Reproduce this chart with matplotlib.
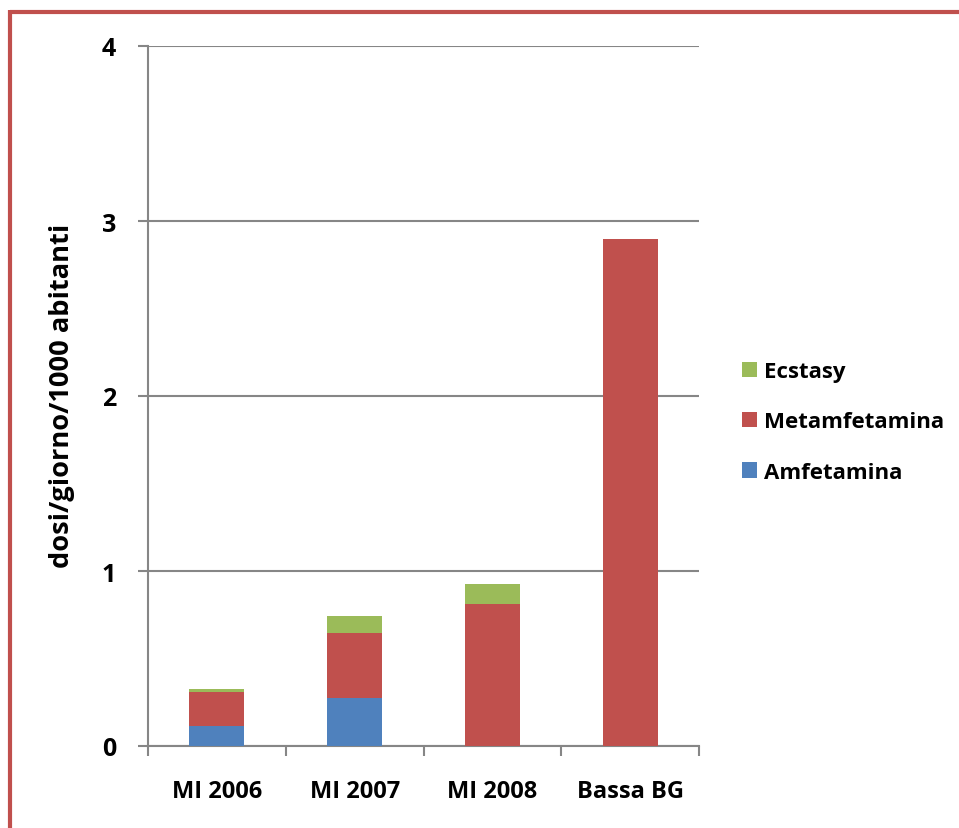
import matplotlib
matplotlib.use("Agg")
import matplotlib.pyplot as plt
from matplotlib.lines import Line2D
import numpy as np

categories = ["MI 2006", "MI 2007", "MI 2008", "Bassa BG"]
amfetamina = [0.113, 0.272, 0.0, 0.0]
metamfetamina = [0.196, 0.375, 0.813, 2.90]
ecstasy = [0.018, 0.096, 0.113, 0.0]

c_amf = "#4F81BD"
c_met = "#C0504D"
c_ecs = "#9BBB59"
grid_c = "#868686"

plt.rcParams["font.family"] = ["Open Sans", "DejaVu Sans"]
plt.rcParams["font.weight"] = "bold"

fig = plt.figure(figsize=(9.59, 8.29), dpi=100)
ax = fig.add_axes([148 / 959, 1 - 747 / 829, 551 / 959, 700 / 829])

x = np.arange(len(categories))
w = 0.4
amf = np.array(amfetamina)
met = np.array(metamfetamina)
ecs = np.array(ecstasy)
b1 = ax.bar(x, amf, w, color=c_amf, label="Amfetamina", zorder=3)
b2 = ax.bar(x, met, w, bottom=amf, color=c_met, label="Metamfetamina", zorder=3)
b3 = ax.bar(x, ecs, w, bottom=amf + met, color=c_ecs, label="Ecstasy", zorder=3)

ax.set_xlim(-0.5, len(categories) - 0.5)
ax.set_ylim(0, 4)
ax.set_yticks([0, 1, 2, 3, 4])
ax.set_xticks(x)
ax.set_xticklabels(categories, fontsize=17, fontweight="bold")
ax.set_xticks(np.arange(-0.5, len(categories)), minor=True)
ax.tick_params(axis="x", which="major", length=0, pad=23.5)
ax.tick_params(axis="x", which="minor", length=7, width=1.5, color=grid_c, direction="out")
ax.tick_params(axis="y", length=7, width=1.5, color=grid_c, pad=16, labelsize=18)
for t in ax.get_yticklabels():
    t.set_fontweight("bold")

ax.yaxis.grid(True, color=grid_c, linewidth=1.5, zorder=0)
for s in ["top", "right"]:
    ax.spines[s].set_visible(False)
for s in ["left", "bottom"]:
    ax.spines[s].set_color(grid_c)
    ax.spines[s].set_linewidth(1.5)

ax.set_ylabel("dosi/giorno/1000 abitanti", fontsize=19.6, fontweight="bold")
ax.yaxis.set_label_coords(-0.1325, 0.501)

handles = [b3, b2, b1]
leg = fig.legend(handles, [h.get_label() for h in handles], loc="center left",
                 bbox_to_anchor=(722 / 959, 1 - 423 / 829), frameon=False,
                 prop={"size": 16, "weight": "bold"}, handlelength=0.68,
                 handleheight=0.68, handletextpad=0.3, labelspacing=1.32)

# decorative red frame along the top and left edges
fig.add_artist(Line2D([10 / 959, 1.0], [1 - 13 / 829, 1 - 13 / 829], color=c_met,
                      linewidth=3, transform=fig.transFigure, solid_capstyle="butt"))
fig.add_artist(Line2D([10 / 959, 10 / 959], [1 - 11 / 829, 0.0], color=c_met,
                      linewidth=3, transform=fig.transFigure, solid_capstyle="butt"))

fig.savefig("out.png", dpi=100)
